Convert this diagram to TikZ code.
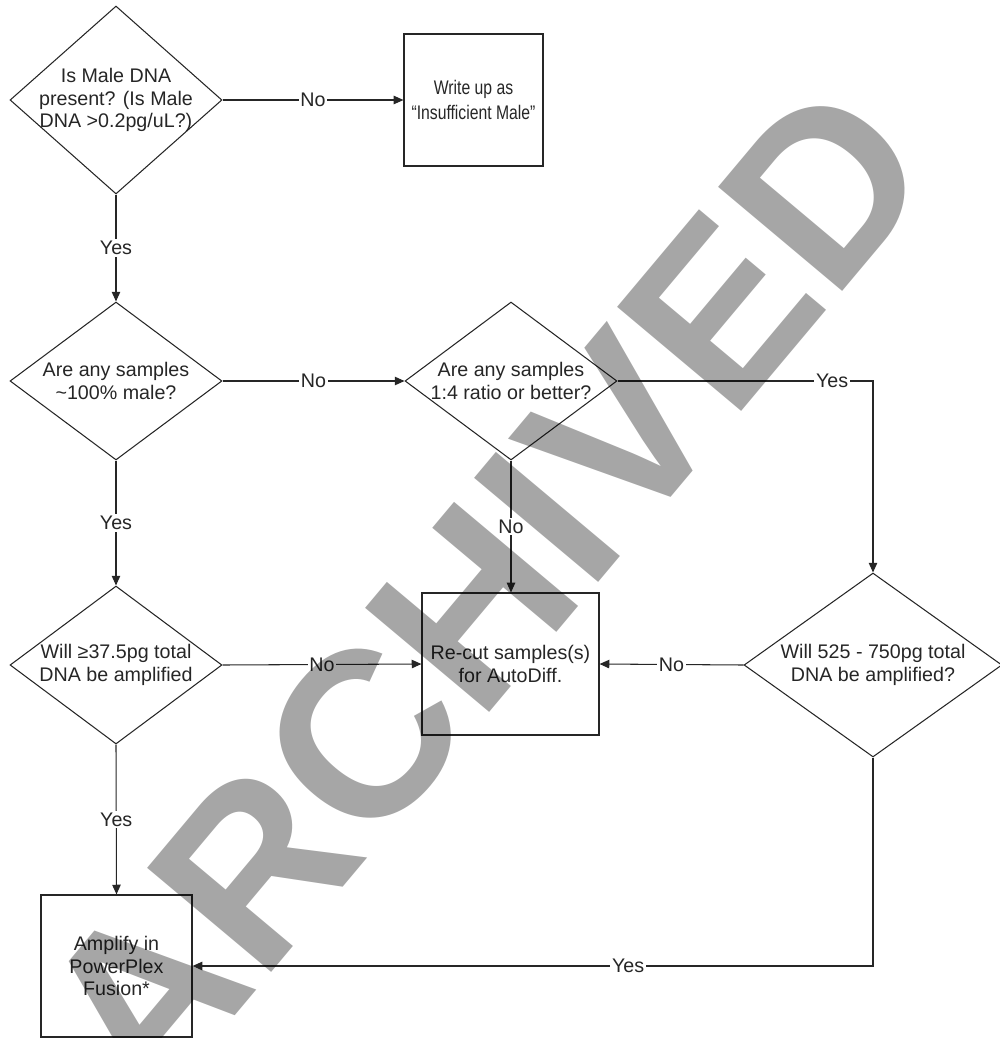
\documentclass[tikz,border=0pt]{standalone}
\usepackage{fontspec}
\setmainfont{Liberation Sans}
\usetikzlibrary{shapes.geometric,arrows.meta}
\definecolor{ink}{HTML}{262626}
\definecolor{wmgray}{HTML}{A6A6A6}
\begin{document}
\begin{tikzpicture}[x=0.02cm,y=-0.02cm,
  txt/.style={font=\fontsize{11.2}{13}\selectfont, text=ink, align=center, inner sep=0pt},
  dia/.style={draw=ink, diamond, line width=0.6pt, inner sep=0pt},
  box/.style={draw=ink, rectangle, line width=0.7pt, inner sep=0pt, font=\fontsize{11.2}{13}\selectfont, text=ink, align=center},
  arr/.style={draw=ink, line width=0.6pt, -{Triangle[length=5.5pt,width=4.8pt]}},
  lab/.style={font=\fontsize{11.2}{13}\selectfont, text=ink, fill=white, inner sep=1pt}
]
\useasboundingbox (0,0) rectangle (1000,1038);

% decisions
\node[dia, minimum width=4.24cm, minimum height=3.76cm] (d1) at (116,100) {};
\node[txt] (d1t) at (d1) {Is Male DNA\\present? (Is Male\\DNA >0.2pg/uL?)};
\node[dia, minimum width=4.24cm, minimum height=3.16cm] (d2) at (116,381) {};
\node[txt] (d2t) at (d2) {Are any samples\\\textasciitilde100\% male?};
\node[dia, minimum width=4.24cm, minimum height=3.16cm] (d3) at (511,381) {};
\node[txt] (d3t) at (d3) {Are any samples\\1:4 ratio or better?};
\node[dia, minimum width=4.24cm, minimum height=3.16cm] (d5) at (116,665) {};
\node[txt] (d5t) at (d5) {Will ≥37.5pg total\\DNA be amplified};
\node[dia, minimum width=5.16cm, minimum height=3.68cm] (d4) at (873,665) {};
\node[txt] (d4t) at (d4) {Will 525 - 750pg total\\DNA be amplified?};

% processes
\node[box, minimum width=2.78cm, minimum height=2.64cm, font=\fontsize{11.2}{14}\selectfont\addfontfeature{FakeStretch=0.8}] (bw) at (473.5,100) {Write up as\\“Insufficient Male”};
\node[box, minimum width=3.54cm, minimum height=2.84cm] (br) at (510.5,664) {Re-cut samples(s)\\for AutoDiff.};
\node[box, minimum width=3.02cm, minimum height=2.84cm] (ba) at (116.5,966) {Amplify in\\PowerPlex\\Fusion*};

% connectors
\draw[arr] (d1.east) -- node[lab] {No} (bw.west);
\draw[arr] (d1.south) -- node[lab] {Yes} (d2.north);
\draw[arr] (d2.east) -- node[lab] {No} (d3.west);
\draw[arr] (d3.east) -| node[lab, pos=0.42] {Yes} (d4.north);
\draw[arr] (d3.south) -- node[lab] {No} (d3.south |- br.north);
\draw[arr] (d2.south) -- node[lab] {Yes} (d5.north);
\draw[arr] (d5.east) -- node[lab] {No} (br.west);
\draw[arr] (d4.west) -- node[lab] {No} (br.east);
\draw[arr] (d5.south) -- node[lab] {Yes} (ba.north);
\draw[arr] (d4.south) |- node[lab, pos=0.68] {Yes} (ba.east);

% watermark
\begin{scope}[blend mode=multiply]
\node[rotate=50, text=wmgray, inner sep=0pt, font=\fontsize{134}{134}\selectfont\bfseries] (wm) at (485,592) {ARCHIVED};
\end{scope}
\end{tikzpicture}
\end{document}
